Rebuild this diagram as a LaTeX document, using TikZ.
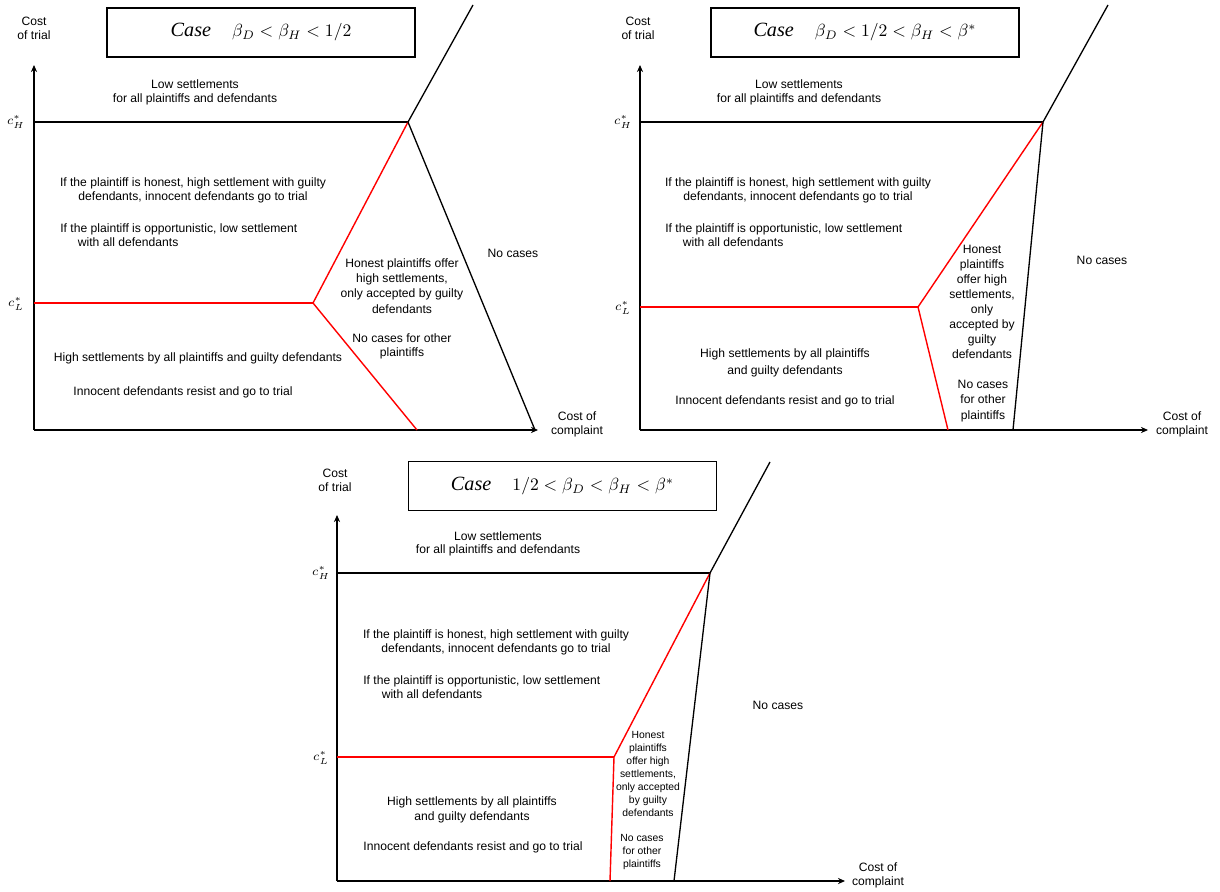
\documentclass[tikz,border=0pt]{standalone}
\usepackage{fontspec}
\setmainfont{Liberation Sans}
\newfontfamily\titlefont{Liberation Serif}
\usetikzlibrary{arrows.meta}

\newcommand{\smalltxt}{\fontsize{6.9}{7.9}\selectfont}
\newcommand{\casefont}{\titlefont\itshape\fontsize{11.5}{13}\selectfont}

\begin{document}
\begin{tikzpicture}[x=0.02cm, y=-0.02cm,
    lbl/.style={font=\smalltxt, align=center, inner sep=0pt},
    lleft/.style={font=\smalltxt, align=left, inner sep=0pt, anchor=west},
    cvar/.style={font=\fontsize{7}{8}\selectfont, inner sep=0pt},
    casebox/.style={draw, line width=0.9pt, minimum width=6.16cm, minimum height=0.98cm, inner sep=0pt},
    axis/.style={line width=1.1pt, -{Stealth[length=4pt, width=3.5pt]}},
    bound/.style={line width=0.75pt},
    redline/.style={line width=0.8pt, red}]
    \useasboundingbox (0,0) rectangle (1220,892);

    % case beta_D < beta_H < 1/2
    \coordinate (O1) at (34,430);
    \coordinate (Y1) at (34,65);
    \coordinate (X1) at (538,430);
    \coordinate (H1a) at (34,122);
    \coordinate (H1) at (408,122);
    \coordinate (L1a) at (34,303);
    \coordinate (L1) at (313,303);
    \coordinate (R1) at (417,430);
    \coordinate (B1) at (535,430);
    \coordinate (T1) at (473,5);
    \node[casebox] (case1) at (261,32.5) {{\casefont Case}\hspace{1.2em}$\beta_D < \beta_H < 1/2$};
    \draw[axis] (O1) -- (Y1);
    \draw[axis] (O1) -- (X1);
    \draw[bound] (H1a) -- (H1);
    \draw[redline] (L1a) -- (L1);
    \draw[redline] (L1) -- (H1);
    \draw[redline] (L1) -- (R1);
    \draw[bound] (T1) -- (H1) -- (B1);
    \node[lbl] (trial1) at (34,28) {Cost\\of trial};
    \node[lbl] (compl1) at (577,424) {Cost of\\complaint};
    \node[cvar] (cH1) at (16,122) {$c^{*}_{H}$};
    \node[cvar] (cL1) at (16,304) {$c^{*}_{L}$};
    \node[lbl] (low1) at (195,92) {Low settlements\\for all plaintiffs and defendants};
    \node[lbl] (hon1) at (193,190) {If the plaintiff is honest, high settlement with guilty\\defendants, innocent defendants go to trial};
    \node[lleft] (opp1) at (60,235) {If the plaintiff is opportunistic, low settlement\\\hspace*{10pt}with all defendants};
    \node[lbl, font=\fontsize{6.9}{8.7}\selectfont] (off1) at (402,286) {Honest plaintiffs offer\\high settlements,\\only accepted by guilty\\defendants};
    \node[lbl] (other1) at (402,346) {No cases for other\\plaintiffs};
    \node[lbl] (none1) at (513,253) {No cases};
    \node[lbl] (high1) at (198,358) {High settlements by all plaintiffs and guilty defendants};
    \node[lbl] (inn1) at (183,392) {Innocent defendants resist and go to trial};

    % case beta_D < 1/2 < beta_H < beta*
    \coordinate (O2) at (640,430);
    \coordinate (Y2) at (640,65);
    \coordinate (X2) at (1148,430);
    \coordinate (H2a) at (640,122);
    \coordinate (H2) at (1043,122);
    \coordinate (L2a) at (640,307);
    \coordinate (L2) at (918,307);
    \coordinate (R2) at (948,430);
    \coordinate (B2) at (1013,430);
    \coordinate (T2) at (1108,5);
    \node[casebox] (case2) at (865,32.5) {{\casefont Case}\hspace{1.2em}$\beta_D < 1/2 < \beta_H < \beta^{*}$};
    \draw[axis] (O2) -- (Y2);
    \draw[axis, line width=1.5pt] (O2) -- (X2);
    \draw[bound] (H2a) -- (H2);
    \draw[redline] (L2a) -- (L2);
    \draw[redline] (L2) -- (H2);
    \draw[redline] (L2) -- (R2);
    \draw[bound] (T2) -- (H2) -- (B2);
    \node[lbl] (trial2) at (638,28) {Cost\\of trial};
    \node[lbl] (compl2) at (1182,424) {Cost of\\complaint};
    \node[cvar] (cH2) at (623,122) {$c^{*}_{H}$};
    \node[cvar] (cL2) at (623,308) {$c^{*}_{L}$};
    \node[lbl] (low2) at (799,92) {Low settlements\\for all plaintiffs and defendants};
    \node[lbl] (hon2) at (798,190) {If the plaintiff is honest, high settlement with guilty\\defendants, innocent defendants go to trial};
    \node[lleft] (opp2) at (665,235) {If the plaintiff is opportunistic, low settlement\\\hspace*{10pt}with all defendants};
    \node[lbl, font=\fontsize{6.9}{8.6}\selectfont] (off2) at (982,302) {Honest\\plaintiffs\\offer high\\settlements,\\only\\accepted by\\guilty\\defendants};
    \node[lbl, font=\fontsize{6.9}{9}\selectfont] (other2) at (983,401) {No cases\\for other\\plaintiffs};
    \node[lbl] (none2) at (1102,260) {No cases};
    \node[lbl, font=\fontsize{6.9}{9.4}\selectfont] (high2) at (785,363) {High settlements by all plaintiffs\\and guilty defendants};
    \node[lbl] (inn2) at (785,401) {Innocent defendants resist and go to trial};

    % case 1/2 < beta_D < beta_H < beta*
    \coordinate (O3) at (337,881);
    \coordinate (Y3) at (337,515);
    \coordinate (X3) at (845,881);
    \coordinate (H3a) at (337,573);
    \coordinate (H3) at (710,573);
    \coordinate (L3a) at (337,757);
    \coordinate (L3) at (614,757);
    \coordinate (R3) at (610,881);
    \coordinate (B3) at (674,881);
    \coordinate (T3) at (770,462);
    \node[casebox] (case3) at (562.5,486) {{\casefont Case}\hspace{1.2em}$1/2 < \beta_D < \beta_H < \beta^{*}$};
    \draw[axis] (O3) -- (Y3);
    \draw[axis] (O3) -- (X3);
    \draw[bound] (H3a) -- (H3);
    \draw[redline] (L3a) -- (L3);
    \draw[redline] (L3) -- (H3);
    \draw[redline] (L3) -- (R3);
    \draw[bound] (T3) -- (H3) -- (B3);
    \node[lbl] (trial3) at (335,480) {Cost\\of trial};
    \node[lbl] (compl3) at (878,875) {Cost of\\complaint};
    \node[cvar] (cH3) at (321,573) {$c^{*}_{H}$};
    \node[cvar] (cL3) at (321,758) {$c^{*}_{L}$};
    \node[lbl, font=\fontsize{6.9}{7.6}\selectfont] (low3) at (498,544) {Low settlements\\for all plaintiffs and defendants};
    \node[lbl] (hon3) at (496,642) {If the plaintiff is honest, high settlement with guilty\\defendants, innocent defendants go to trial};
    \node[lleft] (opp3) at (363,687) {If the plaintiff is opportunistic, low settlement\\\hspace*{10.5pt}with all defendants};
    \node[lbl, font=\fontsize{5.9}{7.4}\selectfont] (off3) at (648,774) {Honest\\plaintiffs\\offer high\\settlements,\\only accepted\\by guilty\\defendants};
    \node[lbl, font=\fontsize{5.9}{7.6}\selectfont] (other3) at (642,852) {No cases\\for other\\plaintiffs};
    \node[lbl] (none3) at (778,705) {No cases};
    \node[lbl, font=\fontsize{6.9}{8.6}\selectfont] (high3) at (472,810) {High settlements by all plaintiffs\\and guilty defendants};
    \node[lbl] (inn3) at (473,847) {Innocent defendants resist and go to trial};
\end{tikzpicture}
\end{document}
